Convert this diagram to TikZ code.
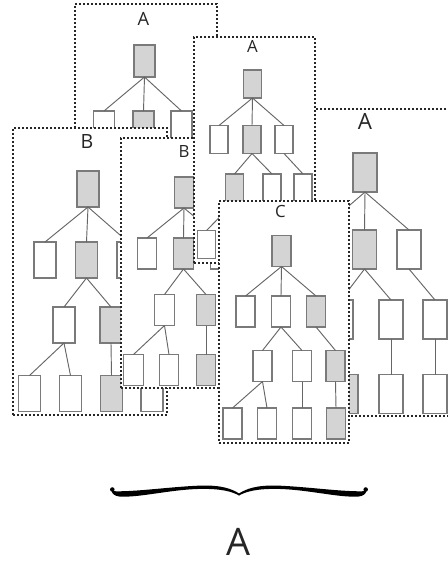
\documentclass[tikz,border=0pt]{standalone}
\usepackage{fontspec}
\setmainfont{Open Sans}
\usetikzlibrary{fit}
\begin{document}
\begin{tikzpicture}[x=0.75pt,y=-0.75pt,
  panel/.style={draw=black!85, fill=white, line width=1.3pt, dash pattern=on 1.3pt off 1.7pt, inner sep=0pt, outer sep=0pt},
  tn/.style={draw=black!52, line width=0.8pt, fill=white, inner sep=0pt, outer sep=0pt},
  gr/.style={fill=black!17},
  ed/.style={draw=black!60, line width=0.7pt},
  szAa/.style={minimum width=15.75pt, minimum height=24pt},
  szAb/.style={minimum width=13.5pt, minimum height=21pt},
  szAc/.style={minimum width=18pt, minimum height=29.25pt},
  szBa/.style={minimum width=16.5pt, minimum height=27pt},
  szBb/.style={minimum width=14.6pt, minimum height=23.25pt},
  szC/.style={minimum width=14.25pt, minimum height=23.25pt},
  lbl/.style={inner sep=0pt, outer sep=0pt, text=black!85},
  brL/.style={},
  brR/.style={shift={(478,0)}, xscale=-1}
]
\useasboundingbox (0,0) rectangle (447,563);

% ---------- Panel A1 ----------
\node[panel, fit={(75,4) (217,150)}] (pA1) {};
\node[lbl, font=\fontsize{13.7}{15}\selectfont] (lA1) at (143.5,18.5) {A};
\node[tn, szAa, gr] (a1r) at (144.5,61) {};
\node[tn, szAa] (a1a) at (104,127) {};
\node[tn, szAa, gr] (a1b) at (143.5,127) {};
\node[tn, szAa] (a1c) at (181.5,127) {};
\draw[ed] (a1r.south) -- (a1a.north);
\draw[ed] (a1r.south) -- (a1b.north);
\draw[ed] (a1r.south) -- (a1c.north);

% ---------- Panel B1 ----------
\node[panel, fit={(13,128) (167,415)}] (pB1) {};
\node[lbl, font=\fontsize{14.7}{16}\selectfont] (lB1) at (87,142) {B};
\node[tn, szBa, gr] (b1r) at (88,189) {};
\node[tn, szBa] (b1a) at (45,260) {};
\node[tn, szBa, gr] (b1b) at (86.5,260) {};
\node[tn, szBa] (b1c) at (128,260) {};
\node[tn, szBa] (b1d) at (64,325) {};
\node[tn, szBa, gr] (b1e) at (111,325) {};
\node[tn, szBa] (b1g) at (29.5,393.5) {};
\node[tn, szBa] (b1h) at (70.5,393.5) {};
\node[tn, szBa, gr] (b1i) at (111.5,393.5) {};
\node[tn, szBa] (b1j) at (152,393.5) {};
\draw[ed] (b1r.south) -- (b1a.north);
\draw[ed] (b1r.south) -- (b1b.north);
\draw[ed] (b1r.south) -- (b1c.north);
\draw[ed] (b1b.south) -- (b1d.north);
\draw[ed] (b1b.south) -- (b1e.north);
\draw[ed] (b1d.south) -- (b1g.north);
\draw[ed] (b1d.south) -- (b1h.north);
\draw[ed] (b1e.south) -- (b1i.north);
\draw[ed] (b1c.south) -- (b1j.north);

% ---------- Panel B2 ----------
\node[panel, fit={(121,138) (240,388)}] (pB2) {};
\node[lbl, font=\fontsize{12.6}{14}\selectfont] (lB2) at (184,152) {B};
\node[tn, szBb, gr] (b2r) at (184,192.5) {};
\node[tn, szBb] (b2a) at (147,253.5) {};
\node[tn, szBb, gr] (b2b) at (183.5,253.5) {};
\node[tn, szBb] (b2c) at (220,253.5) {};
\node[tn, szBb] (b2d) at (164.5,310) {};
\node[tn, szBb, gr] (b2e) at (206,310) {};
\node[tn, szBb] (b2f) at (133.5,370) {};
\node[tn, szBb] (b2g) at (169,370) {};
\node[tn, szBb, gr] (b2h) at (206,370) {};
\draw[ed] (b2r.south) -- (b2a.north);
\draw[ed] (b2r.south) -- (b2b.north);
\draw[ed] (b2r.south) -- (b2c.north);
\draw[ed] (b2b.south) -- (b2d.north);
\draw[ed] (b2b.south) -- (b2e.north);
\draw[ed] (b2d.south) -- (b2f.north);
\draw[ed] (b2d.south) -- (b2g.north);
\draw[ed] (b2e.south) -- (b2h.north);

% ---------- Panel A3 ----------
\node[panel, fit={(315,109) (455,416)}] (pA3) {};
\node[lbl, font=\fontsize{16.8}{18}\selectfont] (lA3) at (365,121) {A};
\node[tn, szAc, gr] (a3r) at (365,172.5) {};
\node[tn, szAc] (a3a) at (321,249.5) {};
\node[tn, szAc, gr] (a3b) at (364.5,249.5) {};
\node[tn, szAc] (a3c) at (409,249.5) {};
\node[tn, szAc] (a3d) at (341,319.5) {};
\node[tn, szAc] (a3e) at (391,319.5) {};
\node[tn, szAc] (a3f) at (435,319.5) {};
\node[tn, szAc, gr] (a3g) at (346,394) {};
\node[tn, szAc] (a3h) at (391,394) {};
\node[tn, szAc] (a3i) at (435,394) {};
\draw[ed] (a3r.south) -- (a3a.north);
\draw[ed] (a3r.south) -- (a3b.north);
\draw[ed] (a3r.south) -- (a3c.north);
\draw[ed] (a3b.south) -- (a3d.north);
\draw[ed] (a3b.south) -- (a3e.north);
\draw[ed] (a3c.south) -- (a3f.north);
\draw[ed] (a3d.south) -- (a3g.north);
\draw[ed] (a3e.south) -- (a3h.north);
\draw[ed] (a3f.south) -- (a3i.north);

% ---------- Panel A2 ----------
\node[panel, fit={(194,37) (315,263)}] (pA2) {};
\node[lbl, font=\fontsize{12.6}{14}\selectfont] (lA2) at (252.5,46) {A};
\node[tn, szAb, gr] (a2r) at (252.5,84) {};
\node[tn, szAb] (a2a) at (219,139.5) {};
\node[tn, szAb, gr] (a2b) at (252,139.5) {};
\node[tn, szAb] (a2c) at (284,139.5) {};
\node[tn, szAb, gr] (a2d) at (234.5,188) {};
\node[tn, szAb] (a2e) at (272,188) {};
\node[tn, szAb] (a2f) at (303,188) {};
\node[tn, szAb] (a2g) at (206.5,244.5) {};
\draw[ed] (a2r.south) -- (a2a.north);
\draw[ed] (a2r.south) -- (a2b.north);
\draw[ed] (a2r.south) -- (a2c.north);
\draw[ed] (a2b.south) -- (a2d.north);
\draw[ed] (a2b.south) -- (a2e.north);
\draw[ed] (a2c.south) -- (a2f.north);
\draw[ed] (a2d.south) -- (a2g.north);

% ---------- Panel C ----------
\node[panel, fit={(219,201) (349,443)}] (pC) {};
\node[lbl, font=\fontsize{12.6}{14}\selectfont] (lC) at (280.5,211) {C};
\node[tn, szC, gr] (cr) at (281.5,251) {};
\node[tn, szC] (ca) at (245.5,311.5) {};
\node[tn, szC] (cb) at (281,311.5) {};
\node[tn, szC, gr] (cc) at (316,311.5) {};
\node[tn, szC] (cd) at (262.5,366) {};
\node[tn, szC] (ce) at (302,366) {};
\node[tn, szC, gr] (cf) at (335.5,366) {};
\node[tn, szC] (cg) at (232.5,423.5) {};
\node[tn, szC] (ch) at (267,423.5) {};
\node[tn, szC] (ci) at (302,423.5) {};
\node[tn, szC, gr] (cj) at (336,423.5) {};
\draw[ed] (cr.south) -- (ca.north);
\draw[ed] (cr.south) -- (cb.north);
\draw[ed] (cr.south) -- (cc.north);
\draw[ed] (cb.south) -- (cd.north);
\draw[ed] (cb.south) -- (ce.north);
\draw[ed] (cc.south) -- (cf.north);
\draw[ed] (cd.south) -- (cg.north);
\draw[ed] (cd.south) -- (ch.north);
\draw[ed] (ce.south) -- (ci.north);
\draw[ed] (cf.south) -- (cj.north);

% ---------- Brace ----------
\foreach \s in {brL,brR}{
  \begin{scope}[\s]
    \fill[black] (113.5,491.2) .. controls (135,492) and (170,486.8) .. (200,485.6)
      .. controls (222,484.9) and (232,489) .. (239.2,493.6) -- (239.2,495.6)
      .. controls (232,491.6) and (222,488.6) .. (200,488.9)
      .. controls (170,489.6) and (140,497.6) .. (120,496.6)
      .. controls (114.5,496.2) and (111.8,493.5) .. (111.6,490.6) -- cycle;
    \fill[black] (112.3,489.5) circle[radius=1.7pt];
  \end{scope}
}
\node[lbl, font=\fontsize{28.4}{30}\selectfont] (lAll) at (238,541.5) {A};
\end{tikzpicture}
\end{document}
